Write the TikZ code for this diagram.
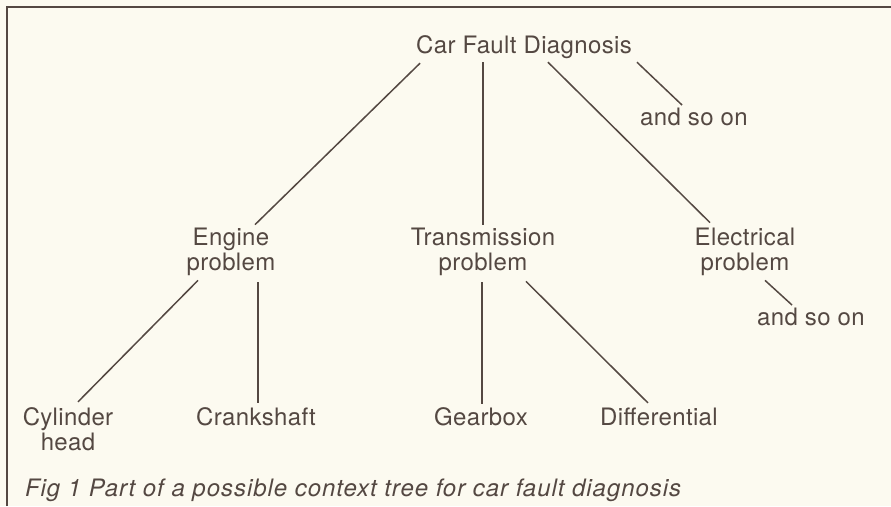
\documentclass[tikz,border=0pt]{standalone}
\usepackage{fontspec}
\setmainfont{TeX Gyre Heros}[LetterSpace=1.5]
\newfontfamily\captfont{TeX Gyre Heros}[LetterSpace=4.0]
\usetikzlibrary{calc}
\definecolor{papercol}{RGB}{252,250,240}
\definecolor{inkcol}{RGB}{84,72,66}
\begin{document}
\begin{tikzpicture}[
  x=1pt, y=-1pt,
  leaf/.style    = {inner sep=0pt, outer sep=0pt, text=inkcol,
                    font=\fontsize{24}{25}\selectfont},
  branch/.style  = {leaf, align=center},
  capt/.style    = {leaf, font=\captfont\fontsize{24}{25}\selectfont\itshape},
  edge/.style    = {draw=inkcol, line width=1.5pt},
  frame/.style   = {draw=inkcol, line width=1.8pt},
]
% ---------- paper + frame ----------
\fill[papercol] (0,0) rectangle (891,506);
\useasboundingbox (0,0) rectangle (891,506);
\draw[frame] (7,506) -- (7,7) -- (891,7);

% ---------- root ----------
\node[leaf, anchor=base] (car)   at (524,53)  {Car Fault Diagnosis};
\node[leaf, anchor=base] (so1)   at (694,125) {and so on};

% ---------- second level ----------
\node[branch] (eng)   at (231,252) {Engine\\problem};
\node[branch] (trans) at (483,252) {Transmission\\problem};
\node[branch] (elec)  at (745,252) {Electrical\\problem};
\node[leaf, anchor=base] (so2) at (811,325) {and so on};

% ---------- leaves ----------
\node[branch] (cyl)   at (68,429)  {Cylinder\\head};
\node[leaf, anchor=base] (crank) at (256,425) {Crankshaft};
\node[leaf, anchor=base] (gear)  at (481,425) {Gearbox};
\node[leaf, anchor=base] (diff)  at (659,425) {Differential};

% ---------- connectors ----------
\draw[edge] ($(car.south)+(-104,5)$) -- ($(eng.north)+(24,-3.5)$);
\draw[edge] ($(car.south)+(-41,4)$)  -- ($(trans.north)+(0,-3.5)$);
\draw[edge] ($(car.south)+(24,4)$)   -- ($(elec.north)+(-35,-5.5)$);
\draw[edge] ($(car.south)+(113,4)$)  -- ($(so1.north)+(-12,-2.5)$);

\draw[edge] ($(eng.south)+(-33,4.5)$) -- ($(cyl.north)+(10,-5.5)$);
\draw[edge] ($(eng.south)+(27,6.5)$)  -- ($(crank.north)+(2,-4.5)$);
\draw[edge] ($(trans.south)+(-1,6.5)$) -- ($(gear.north)+(1,-3.5)$);
\draw[edge] ($(trans.south)+(43,5.5)$) -- ($(diff.north)+(-11,-4.5)$);
\draw[edge] ($(elec.south)+(20,4.5)$)  -- ($(so2.north)+(-19,-2.5)$);

% ---------- caption ----------
\node[capt, anchor=base west] (cap) at (25,496)
  {Fig 1 Part of a possible context tree for car fault diagnosis};
\end{tikzpicture}
\end{document}
